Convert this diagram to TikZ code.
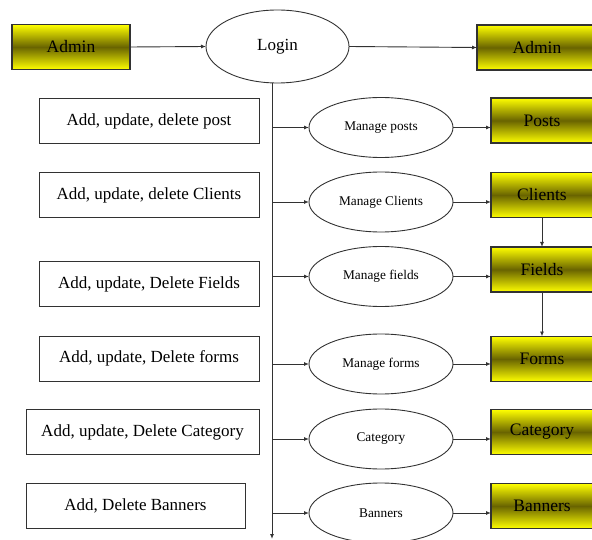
\documentclass[tikz,border=0pt]{standalone}
\usepackage{fontspec}
\setmainfont{Liberation Serif}
\usetikzlibrary{ arrows.meta
               , shapes.geometric
               , positioning
               }

\definecolor{boxline}{RGB}{50,50,50}
\definecolor{olivemid}{RGB}{105,100,0}

\begin{document}
\begin{tikzpicture}
      [ x=1pt, y=-1pt
      , every node/.style={inner sep=0pt, outer sep=0pt}
      , entity/.style={draw=boxline, line width=1.2pt, rectangle,
                       top color=yellow, bottom color=yellow, middle color=olivemid,
                       minimum height=45pt, font=\fontsize{17.5}{20}\selectfont}
      , task/.style={draw=boxline, line width=1pt, rectangle,
                     minimum height=45pt, font=\fontsize{17}{20}\selectfont}
      , action/.style={draw=boxline, line width=0.9pt, ellipse,
                       minimum width=144pt, minimum height=60pt,
                       font=\fontsize{13.3}{15}\selectfont}
      , flow/.style={draw=boxline, line width=0.9pt, -{Latex[length=5pt,width=4pt]}}
      ]
    \useasboundingbox (0,0) rectangle (592,540);
    \clip (0,0) rectangle (592,540);

    % top row
    \node[entity, minimum width=118pt] (adminL) at (71,47) {Admin};
    \node[action, minimum width=143pt, minimum height=73pt, font=\fontsize{17}{20}\selectfont]
      (login) at (277.5,46.5) {Login};
    \node[entity, minimum width=120pt] (adminR) at (537,47.5) {Admin};

    % left column
    \node[task, minimum width=220pt] (tposts)   at (149,121)   {Add, update, delete post};
    \node[task, minimum width=220pt] (tclients) at (149,195)   {Add, update, delete Clients};
    \node[task, minimum width=220pt] (tfields)  at (149,284)   {Add, update, Delete Fields};
    \node[task, minimum width=220pt] (tforms)   at (149,358.5) {Add, update, Delete forms};
    \node[task, minimum width=233pt] (tcat)     at (142.5,432) {Add, update, Delete Category};
    \node[task, minimum width=219pt] (tban)     at (135.5,506) {Add, Delete Banners};

    % middle column
    \node[action] (mposts)   at (381,127.5) {Manage posts};
    \node[action] (mclients) at (381,202)   {Manage Clients};
    \node[action] (mfields)  at (381,276.5) {Manage fields};
    \node[action] (mforms)   at (381,364)   {Manage forms};
    \node[action] (mcat)     at (381,439)   {Category};
    \node[action] (mban)     at (381,513)   {Banners};

    % right column
    \node[entity, minimum width=102pt] (posts)   at (542,120.5) {Posts};
    \node[entity, minimum width=102pt] (clients) at (542,195)   {Clients};
    \node[entity, minimum width=102pt] (fields)  at (542,269.5) {Fields};
    \node[entity, minimum width=102pt] (forms)   at (542,359)   {Forms};
    \node[entity, minimum width=102pt] (cat)     at (542,432)   {Category};
    \node[entity, minimum width=102pt] (ban)     at (542,506)   {Banners};

    \coordinate (trunkEnd) at (272,539);

    \draw[flow] (adminL.east) -- (login.west);
    \draw[flow] (login.east) -- (adminR.west);
    \draw[flow] (login.south -| trunkEnd) -- (trunkEnd);

    \foreach \m/\e in {mposts/posts, mclients/clients, mfields/fields,
                       mforms/forms, mcat/cat, mban/ban}
    {
      \draw[flow] (\m.west -| trunkEnd) -- (\m.west);
      \draw[flow] (\m.east) -- (\m.east -| \e.west);
    }

    \draw[flow] (clients.south) -- (fields.north);
    \draw[flow] (fields.south) -- (forms.north);
\end{tikzpicture}
\end{document}
